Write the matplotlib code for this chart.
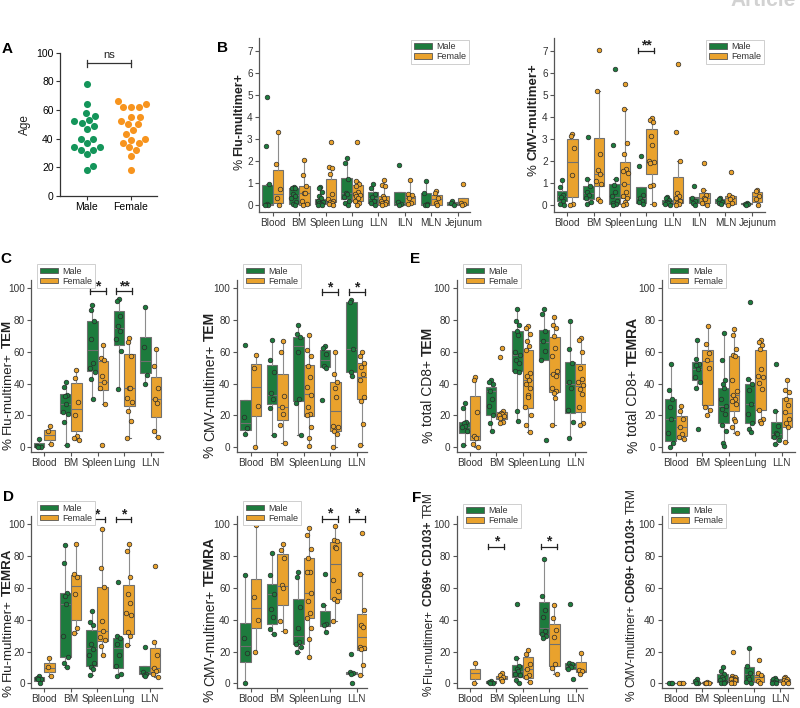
import numpy as np
import matplotlib
matplotlib.use('Agg')
import matplotlib.pyplot as plt
import matplotlib.transforms as mtrans
from matplotlib.patches import Patch

plt.rcParams['font.family'] = ['Liberation Sans', 'DejaVu Sans']

GREEN = '#1d7b3d'
ORANGE = '#e9a22d'
A_GREEN = '#14955a'
A_ORANGE = '#f7941e'

# ---------------- data ----------------
AGE_MALE = [78, 64, 58, 56, 53, 52, 51, 49, 47, 40, 40, 37, 34, 34, 32, 32, 29, 21, 18]
AGE_FEMALE = [66, 64, 62, 62, 62, 55, 55, 52, 50, 50, 46, 43, 40, 39, 37, 37, 34, 32, 28, 18]

TISSUES_B = ['Blood', 'BM', 'Spleen', 'Lung', 'LLN', 'ILN', 'MLN', 'Jejunum']
TISSUES = ['Blood', 'BM', 'Spleen', 'Lung', 'LLN']

# box stats: [lower whisker, q1, median, q3, upper whisker]
B_FLU_M = [[0, 0, 0.05, 0.92, 0.93], [0, 0.05, 0.45, 0.77, 0.82], [0, 0.05, 0.15, 0.27, 0.83],
           [0, 0.25, 0.55, 1.22, 2.15], [0, 0.1, 0.3, 0.6, 0.93], [0, 0, 0.1, 0.57, 0.57],
           [0, 0, 0.05, 0.53, 1.07], [0, 0.02, 0.1, 0.12, 0.2]]
B_FLU_M_PTS = [[4.9, 2.67, 0.93, 0.05, 0, 0], [0.82, 0.78, 0.75, 0.5, 0.4, 0.3, 0.15, 0.05, 0],
               [0.83, 0.75, 0.6, 0.4, 0.3, 0.2, 0.15, 0.1, 0.05, 0, 0],
               [2.15, 1.9, 1.2, 0.55, 0.5, 0.35, 0.2, 0.1, 0], [0.93, 0.75, 0.5, 0.35, 0.2, 0.1, 0],
               [1.8, 0.15, 0.05, 0], [1.07, 0.53, 0.05, 0, 0], [0.2, 0.1, 0]]
B_FLU_F = [[0.02, 0.08, 0.5, 1.59, 3.33], [0, 0, 0.55, 0.86, 2.05], [0, 0.15, 0.2, 1.17, 1.72],
           [0, 0.2, 0.5, 0.89, 1.1], [0, 0.02, 0.2, 0.42, 1.15], [0.05, 0.05, 0.3, 0.42, 1.15],
           [0, 0, 0.25, 0.47, 0.65], [0, 0, 0.05, 0.3, 0.3]]
B_FLU_F_PTS = [[3.33, 1.88, 0.73, 0.33, 0.02], [2.05, 1.37, 0.85, 0.55, 0.55, 0.2, 0.05, 0],
               [2.88, 1.72, 1.7, 1.42, 0.5, 0.25, 0.2, 0.15, 0.1, 0.05, 0],
               [2.87, 1.1, 0.95, 0.85, 0.6, 0.5, 0.45, 0.4, 0.3, 0.2, 0.1, 0],
               [1.15, 0.92, 0.85, 0.4, 0.3, 0.2, 0.15, 0.1, 0.05, 0],
               [1.15, 0.5, 0.45, 0.3, 0.1, 0.05], [0.65, 0.55, 0.3, 0.1, 0], [0.95, 0.1, 0.05, 0]]

B_CMV_M = [[0, 0.18, 0.4, 0.64, 1.12], [0.05, 0.26, 0.55, 0.86, 1.2], [0, 0.05, 0.35, 0.95, 1.17],
           [0.05, 0.1, 0.3, 0.8, 0.8], [0.02, 0.05, 0.15, 0.23, 0.38], [0, 0.1, 0.3, 0.38, 0.38],
           [0.05, 0.08, 0.15, 0.25, 0.3], [0, 0.03, 0.05, 0.08, 0.08]]
B_CMV_M_PTS = [[1.12, 0.82, 0.45, 0.38, 0.2, 0.05, 0], [3.08, 1.2, 0.85, 0.6, 0.45, 0.3, 0.15, 0.05],
               [6.15, 2.7, 1.17, 0.9, 0.6, 0.4, 0.2, 0.1, 0.05, 0],
               [2.22, 1.78, 0.45, 0.3, 0.2, 0.12, 0.05], [0.38, 0.3, 0.22, 0.15, 0.1, 0.05, 0.02],
               [0.87, 0.3, 0.2, 0.1, 0], [0.3, 0.25, 0.15, 0.1, 0.05], [0.08, 0.05, 0.03, 0]]
B_CMV_F = [[0, 0.38, 1.95, 3.0, 3.2], [0.2, 0.88, 1.42, 3.03, 5.18], [0, 0.3, 0.95, 1.97, 4.35],
           [0.05, 1.4, 1.95, 3.43, 3.95], [0, 0.1, 0.25, 1.27, 2.0], [0, 0.1, 0.3, 0.53, 0.7],
           [0, 0.05, 0.3, 0.42, 0.47], [0, 0.15, 0.4, 0.58, 0.68]]
B_CMV_F_PTS = [[3.2, 3.15, 2.57, 1.35, 0.05, 0], [7.05, 5.18, 2.3, 1.57, 1.42, 1.1, 0.95, 0.25, 0.2],
               [5.48, 4.35, 2.82, 2.3, 1.62, 1.55, 1.45, 0.95, 0.6, 0.4, 0.3, 0.15, 0.05, 0],
               [3.95, 3.85, 3.75, 3.15, 2.7, 2.0, 1.95, 1.9, 0.9, 0.85, 0.05],
               [6.4, 3.33, 2.0, 0.52, 0.4, 0.3, 0.2, 0.1, 0.05, 0],
               [1.9, 0.7, 0.45, 0.3, 0.25, 0.1, 0], [1.5, 0.47, 0.35, 0.25, 0.1, 0],
               [0.68, 0.62, 0.4, 0.25, 0]]

C_FLU_M = [[0, 0, 1, 2.9, 5.3], [1.7, 21.6, 27, 33.2, 41], [30, 47.9, 60.9, 79, 89],
           [36.4, 64.3, 75, 85.3, 93], [40, 46.4, 54, 69.5, 88]]
C_FLU_M_PTS = [[5.3, 0.5, 0, 0], [41, 38, 33, 32, 27, 22, 21, 16, 1.7], [89, 86, 79, 68, 53, 50, 47, 43, 30],
               [93, 92, 82.5, 76, 73, 68, 60.5, 36.4], [88, 63, 45.5, 40]]
C_FLU_F = [[2, 4.8, 7.6, 10.7, 13.4], [4.8, 10.1, 24, 40.1, 48.5], [27, 36.1, 41, 54.2, 64],
           [6, 26, 37, 58.6, 68.5], [6.5, 19, 30, 44.3, 61.5]]
C_FLU_F_PTS = [[13.4, 10, 2], [48.5, 43.5, 28.5, 20, 7, 5.5, 4.8], [64, 56, 54.5, 45, 41, 37, 27, 1.7],
               [68.5, 66, 57, 37, 37, 31, 28.5, 23, 16.5, 6], [61.5, 51, 37, 30, 28, 10.5, 6.5]]

C_CMV_M = [[8, 10.6, 15, 29.9, 29.9], [7.5, 27.1, 33, 51.4, 67.5], [7.8, 29.2, 63.5, 69.1, 77],
           [50, 50.3, 55, 61.2, 63.5], [45, 47.2, 61.5, 91.4, 92.5]]
C_CMV_M_PTS = [[64.3, 19, 12, 8], [67.5, 54.5, 47.5, 34, 30, 24.5, 7.5], [77, 71, 69, 60, 30, 28, 7.8],
               [63.5, 62.5, 58.5, 51, 50, 29.8], [92.5, 91.5, 61.5, 47.5, 45]]
C_CMV_F = [[0, 19.4, 38, 52, 58], [2.8, 17.3, 25.5, 45.7, 66.5], [1, 19.8, 33.2, 51.4, 70.6],
           [0, 10.2, 22.5, 40.9, 59.5], [1.5, 30, 44, 53, 59.5]]
C_CMV_F_PTS = [[58, 50, 26, 0], [66.5, 59.5, 32, 25.5, 21, 14, 2.8],
               [70.6, 61, 57, 51, 44, 38, 33, 25, 21, 20, 13, 6, 1],
               [59.5, 46, 41, 37.5, 31.5, 13.5, 13, 10, 8, 0],
               [59.5, 57, 53, 50.5, 46, 42, 31.5, 29, 14.3, 1.5]]

E_TEM_M = [[1.5, 9.2, 13, 16.1, 27.7], [10, 20.1, 35, 38, 42], [16.5, 48, 58, 73.2, 86.5],
           [54.5, 54.9, 66, 73.8, 87], [6, 21.8, 40, 53.2, 79.5]]
E_TEM_M_PTS = [[27.7, 24.5, 16, 15, 13.5, 12.5, 10, 1.5], [42, 41, 40, 35, 30, 26, 20, 15, 10],
               [86.5, 79, 77, 73, 70.5, 59.5, 58, 55, 53, 48, 47.5, 23, 16.5],
               [87, 83.5, 73, 66.5, 60.5, 54.5, 4.5], [79.5, 61.5, 53, 41, 37, 23.5, 16, 6]]
E_TEM_F = [[0, 4.4, 7, 31.9, 44], [15, 17.6, 20, 22.4, 22.5], [9.5, 24.9, 41.9, 61.2, 76],
           [14, 34.8, 46, 69.4, 82], [14, 22.4, 38.5, 52.2, 68.5]]
E_TEM_F_PTS = [[44, 42.5, 22, 7, 6, 2, 0], [62.3, 56.5, 22.5, 21.5, 21, 20, 19.5, 18.5, 16, 15],
               [76, 75, 71, 66.5, 63.5, 61, 46.5, 45, 42, 40, 37, 33, 31.5, 25, 20, 14, 9.5],
               [82, 77, 75, 70, 62.5, 57.5, 48, 46, 45, 37, 35, 34, 31, 14],
               [68.5, 67.5, 60, 49.5, 43, 41, 39, 36.5, 33.5, 25, 15, 14]]

E_TEMRA_M = [[0, 3.6, 18, 30.2, 52], [37, 42.1, 49, 53.7, 67.5], [0.5, 14.9, 26, 37.5, 71.5],
             [9.5, 14.9, 27, 40, 43], [2, 6.1, 8, 15.9, 23]]
E_TEMRA_M_PTS = [[52, 36, 30, 25.5, 18, 9, 2.5, 0], [67.5, 55.5, 52.5, 51.5, 49, 44, 41, 37, 11.5],
                 [71.5, 55, 42.5, 40, 37.5, 30, 26, 24, 21, 14, 10, 2.5, 0.5],
                 [91.5, 43, 40, 36, 27, 21, 15, 11.5, 9.5], [52.5, 23, 13.5, 9, 8, 6.5, 4.5, 2]]
E_TEMRA_F = [[5, 7.1, 12.8, 19.3, 26], [20, 26.4, 54.3, 60.8, 76], [9, 22.6, 32.5, 57.4, 74],
             [15, 23.3, 44.2, 61, 67.5], [3.5, 13, 21.5, 31.2, 42.5]]
E_TEMRA_F_PTS = [[26, 23, 18, 12.5, 8, 6.5, 5], [76, 65, 59, 55, 50, 25.5, 23.5, 20],
                 [74, 70.5, 61.5, 58, 57, 42, 35, 33, 30.5, 29, 27, 17.5, 16.5, 12.5, 9],
                 [67.5, 66, 64, 61.5, 49, 45, 44, 40.5, 36.5, 23.5, 18, 16.5, 15],
                 [42.5, 36, 34.5, 30, 26.5, 22, 18, 15, 13, 3.5]]

D_FLU_M = [[0, 1.5, 3, 4, 4.5], [10, 16.4, 50, 57, 87], [5.5, 10.9, 22, 33.5, 45.5],
           [4.5, 9.4, 22, 28.7, 29.5], [4.5, 5.9, 7, 11.1, 11.1]]
D_FLU_M_PTS = [[4.5, 3.5, 3, 2.5, 0], [87, 75.5, 57, 55, 50, 30, 16.5, 13, 10],
               [45.5, 38.5, 37, 24.5, 21.5, 18, 13, 10, 9, 5.5],
               [63.5, 29.5, 28.5, 25, 18, 11, 6, 4.5], [23, 7, 6, 5, 4.5]]
D_FLU_F = [[4.6, 7.1, 9.5, 12.6, 15.7], [31.5, 39.8, 61, 68, 87.5], [18, 26.8, 33, 60.8, 97],
           [24, 30.8, 43.8, 61.6, 87.5], [4, 6.9, 9.5, 22, 26.5]]
D_FLU_F_PTS = [[15.7, 10, 4.6], [87.5, 68.5, 67, 56, 34.5, 31.5], [97, 72.5, 60.5, 39, 33, 29, 27, 23.5, 18],
               [87.5, 83, 67, 56, 50.5, 44, 43, 32, 29.5, 24], [73.5, 26, 18, 9.5, 8, 6, 4]]

D_CMV_M = [[0, 13.6, 23.5, 38.2, 68], [31, 37.3, 56, 62.3, 82], [19.5, 24.7, 30, 52.8, 70],
           [32, 36.3, 37, 45.7, 49], [5.9, 5.9, 6.5, 7.3, 7.3]]
D_CMV_M_PTS = [[68, 28.5, 19, 0], [82, 68, 56.5, 46.5, 41.5, 34, 31], [70, 67, 48, 34.5, 26, 25, 23, 19.5],
               [69, 49, 37.5, 36.5, 32], [18.5, 7, 6.5, 6, 0]]
D_CMV_F = [[20, 34.8, 47.4, 65.6, 99.5], [33, 49.3, 61.5, 81.3, 87.5], [16.5, 41.3, 56.7, 78.6, 97.5],
           [39, 53, 75.1, 88.7, 99], [5.5, 21, 29, 43.6, 68.5]]
D_CMV_F_PTS = [[99.5, 54.5, 40, 20], [87.5, 84, 79, 62, 60, 39, 33],
               [97.5, 93.5, 84.5, 79, 70, 70, 57, 52, 44.5, 41, 35, 28, 16.5],
               [99, 90, 89.5, 86, 85, 65, 58, 53, 51.5, 39],
               [94.5, 68.5, 46, 37, 35.5, 23, 22, 21.5, 11.5, 5.5]]

F_FLU_M = [None, [0, 0, 0.5, 1.2, 1.5], [0, 4.2, 7.5, 11.5, 16], [28.5, 30.8, 35, 51, 78.5],
           [9, 9, 11, 13, 13]]
F_FLU_M_PTS = [[], [1.5, 0.8, 0.3, 0], [50, 16, 11, 9, 8, 6, 5, 2, 0], [78.5, 55, 46, 42, 33, 31, 29.5, 28.5],
               [50, 13, 12, 11, 10, 9, 3]]
F_FLU_F = [[0, 2.5, 6.5, 9, 12.5], [1.2, 2.5, 3.5, 4.8, 6.5], [0.8, 3.1, 9, 16.8, 21],
           [6, 10.9, 24.7, 37.3, 49], [6, 7.3, 8, 13.6, 19]]
F_FLU_F_PTS = [[12.5, 0], [6.5, 5, 4, 3, 1.2], [21, 18.5, 12, 9, 5, 4, 0.8], [49, 41, 33.5, 29, 12, 9.5, 6],
               [19, 8.5, 7.5, 6]]

F_CMV_M = [[0, 0, 0, 0, 0], [0, 0, 0.2, 0.5, 2.5], [0, 0.6, 2, 5.7, 10], [0.5, 1.7, 6, 10.5, 22.5],
           [0, 0.6, 1.5, 2.5, 3.5]]
F_CMV_M_PTS = [[0, 0, 0], [2.5, 1.5, 0.5, 0], [10, 8, 6, 4, 3, 2, 1, 0.5, 0], [22.5, 11, 6.5, 4, 2.5, 1, 0.5],
               [3.5, 3, 2, 1, 0.5, 0]]
F_CMV_F = [[0, 0, 0, 0, 0], [0.1, 0.1, 0.4, 0.8, 1], [0, 0.6, 2.5, 3.8, 5], [0, 0.6, 4, 5.2, 6.5],
           [0, 0.6, 2, 2.5, 4]]
F_CMV_F_PTS = [[0, 0, 0], [1, 0.5, 0.3, 0.1], [19.5, 4.5, 4, 3.5, 3, 2.5, 2, 1, 0.5, 0],
               [14.5, 6.5, 5, 1.5, 0], [4, 3.5, 3, 2, 1.5, 0.5, 0]]

# ---------------- helpers ----------------
W, H = 800, 708
JIT = np.array([0, -0.06, 0.06, -0.03, 0.03, -0.09, 0.09, -0.045, 0.045,
                -0.075, 0.075, -0.015, 0.015, -0.1, 0.1, -0.06, 0.06])


def rect(l, r, t, b):
    return [l / W, 1 - b / H, (r - l) / W, (b - t) / H]


def style(ax, labels, xlim, ylim, yticks):
    for s in ['top', 'right']:
        ax.spines[s].set_visible(False)
    for s in ['left', 'bottom']:
        ax.spines[s].set_color('#555555')
        ax.spines[s].set_linewidth(0.9)
    ax.set_xlim(xlim)
    ax.set_ylim(ylim)
    ax.set_xticks(range(len(labels)))
    ax.set_xticklabels(labels)
    ax.set_yticks(yticks)
    ax.tick_params(labelsize=7.2, length=3, width=0.8, color='#555555', labelcolor='#333333', pad=1.5)


def boxes(ax, stats, pts, off, color):
    for i, (s, p) in enumerate(zip(stats, pts)):
        pos = i + off
        if s is not None:
            ax.bxp([dict(whislo=s[0], q1=s[1], med=s[2], q3=s[3], whishi=s[4])], positions=[pos],
                   widths=0.4, patch_artist=True, showfliers=False, manage_ticks=False, capwidths=0.1,
                   boxprops=dict(facecolor=color, edgecolor='#707070', linewidth=0.8),
                   medianprops=dict(color='#707070', linewidth=0.8),
                   whiskerprops=dict(color='#8c8c8c', linewidth=0.8),
                   capprops=dict(color='#707070', linewidth=0.8))
        if len(p):
            ax.scatter(pos + np.resize(JIT, len(p)), p, s=11, c=color, edgecolors='#2a2a2a',
                       linewidths=0.5, zorder=3)


def legend(ax, x, y, loc):
    h = [Patch(facecolor=GREEN, edgecolor='#555555', lw=0.6, label='Male'),
         Patch(facecolor=ORANGE, edgecolor='#555555', lw=0.6, label='Female')]
    lg = ax.legend(handles=h, loc=loc, bbox_to_anchor=(x, y), fontsize=6.5, borderpad=0.3,
                   labelspacing=0.1, handlelength=2.0, handleheight=0.6, handletextpad=0.5,
                   borderaxespad=0, framealpha=1, edgecolor='#c8c8c8', fancybox=False)
    lg.get_frame().set_linewidth(0.6)
    for t in lg.get_texts():
        t.set_color('#333333')


def sig(ax, x, y, star, h=1.8):
    kw = dict(color='#222222', lw=0.9, clip_on=False)
    ax.plot([x - 0.3, x + 0.3], [y, y], **kw)
    ax.plot([x - 0.3, x - 0.3], [y - h, y + h], **kw)
    ax.plot([x + 0.3, x + 0.3], [y - h, y + h], **kw)
    ax.text(x, y - h * 0.6, star, ha='center', va='bottom', fontsize=10, fontweight='bold', color='#222222')


def ylab(ax, parts, x, yc, fs=10):
    r = fig.canvas.get_renderer()
    texts = [ax.text(x, 0, s, transform=ax.transAxes, rotation=90, rotation_mode='anchor',
                     ha='left', va='baseline', fontsize=fs, fontweight=w, color='#222222')
             for s, w in parts]
    gap = fs * 0.28 * fig.dpi / 72
    lens = [t.get_window_extent(r).height for t in texts]
    total = sum(lens) + gap * (len(texts) - 1)
    x0, yd = ax.transAxes.transform((x, yc))
    y = yd - total / 2
    inv = ax.transAxes.inverted()
    for t, L in zip(texts, lens):
        t.set_position(inv.transform((x0, y)))
        y += L + gap


def shift_last_label(ax, px):
    lab = ax.xaxis.get_major_ticks()[-1].label1
    lab.set_transform(lab.get_transform() + mtrans.ScaledTranslation(px / 100, 0, fig.dpi_scale_trans))


def swarm(ax, vals, center, diam):
    tr = ax.transData
    sx = tr.transform((1, 0))[0] - tr.transform((0, 0))[0]
    placed = []
    xs = np.zeros(len(vals))
    for i in np.argsort(vals):
        yp = tr.transform((0, vals[i]))[1]
        cands = [0.0]
        for px, py in placed:
            dy = yp - py
            if abs(dy) < diam:
                dx = np.sqrt(diam ** 2 - dy ** 2)
                cands += [px + dx, px - dx]
        cands.sort(key=abs)
        for c in cands:
            if all((c - px) ** 2 + (yp - py) ** 2 >= diam ** 2 - 1e-6 for px, py in placed):
                break
        placed.append((c, yp))
        xs[i] = center + c / sx
    return xs


fig = plt.figure(figsize=(W / 100, H / 100), dpi=100)
# journal header, only its lower edge shows at the top of the page
fig.text(0.995, 1 - 6 / H, 'Article', ha='right', va='baseline', color='#d2d2d2', fontsize=15, fontweight='bold')

# ---------------- A ----------------
axA = fig.add_axes(rect(60, 157, 52.7, 196))
axA.set_xlim(-0.61, 1.59)
axA.set_ylim(0, 100)
for s in ['top', 'right']:
    axA.spines[s].set_visible(False)
for s in ['left', 'bottom']:
    axA.spines[s].set_linewidth(0.9)
    axA.spines[s].set_color('#333333')
axA.set_xticks([0, 1])
axA.set_xticklabels(['Male', 'Female'], fontsize=8)
axA.set_yticks(range(0, 101, 20))
axA.tick_params(labelsize=7.5, length=3, width=0.8, color='#333333', pad=1.5)
axA.scatter(swarm(axA, np.array(AGE_MALE, float), 0, 7.6), AGE_MALE, s=26, c=A_GREEN, lw=0, zorder=3)
axA.scatter(swarm(axA, np.array(AGE_FEMALE, float), 1, 7.6), AGE_FEMALE, s=26, c=A_ORANGE, lw=0, zorder=3)
axA.plot([0, 1], [92.5, 92.5], color='#333333', lw=0.9)
axA.plot([0, 0], [90, 95], color='#333333', lw=0.9)
axA.plot([1, 1], [90, 95], color='#333333', lw=0.9)
axA.text(0.5, 95, 'ns', ha='center', va='bottom', fontsize=8, color='#222222')
ylab(axA, [('Age', 'normal')], -0.33, 0.5, fs=8.5)

# ---------------- B ----------------
yB = (-0.32, 7.58)
axB1 = fig.add_axes(rect(259, 470, 38, 212))
style(axB1, TISSUES_B, (-0.52, 7.47), yB, range(8))
shift_last_label(axB1, 6)
boxes(axB1, B_FLU_M, B_FLU_M_PTS, -0.2, GREEN)
boxes(axB1, B_FLU_F, B_FLU_F_PTS, 0.2, ORANGE)
legend(axB1, 0.995, 0.99, 'upper right')
ylab(axB1, [('%', 'normal'), ('Flu-multimer+', 'bold')], -0.08, 0.52, fs=9)

axB2 = fig.add_axes(rect(554, 765, 38, 212))
style(axB2, TISSUES_B, (-0.5, 7.5), yB, range(8))
shift_last_label(axB2, 6)
boxes(axB2, B_CMV_M, B_CMV_M_PTS, -0.2, GREEN)
boxes(axB2, B_CMV_F, B_CMV_F_PTS, 0.2, ORANGE)
legend(axB2, 0.995, 0.99, 'upper right')
sig(axB2, 3, 7.0, '**', h=0.12)
ylab(axB2, [('%', 'normal'), ('CMV-multimer+', 'bold')], -0.085, 0.53, fs=9.5)

# ---------------- rows 2 and 3 ----------------
y5 = (-3, 105)
yt = range(0, 101, 20)
R2 = (280, 452)
R3 = (516.4, 688.1)

panels = [
    ((31, 163), R2, (-0.5, 4.46), C_FLU_M, C_FLU_M_PTS, C_FLU_F, C_FLU_F_PTS,
     [('%', 'normal'), ('Flu-multimer+', 'normal'), ('TEM', 'bold')], -0.15, 0.39, 9.6,
     [(2, 97.9, '*'), (3, 97.9, '**')], (0.045, 1.093)),
    ((236.7, 366.7), R2, (-0.53, 4.38), C_CMV_M, C_CMV_M_PTS, C_CMV_F, C_CMV_F_PTS,
     [('%', 'normal'), ('CMV-multimer+', 'normal'), ('TEM', 'bold')], -0.175, 0.39, 10,
     [(3, 97.3, '*'), (4, 97.3, '*')], (0.05, 1.093)),
    ((456.7, 586), R2, (-0.5, 4.4), E_TEM_M, E_TEM_M_PTS, E_TEM_F, E_TEM_F_PTS,
     [('%', 'normal'), ('total CD8+', 'normal'), ('TEM', 'bold')], -0.19, 0.39, 10,
     [], (0.05, 1.093)),
    ((661.7, 795), R2, (-0.54, 4.5), E_TEMRA_M, E_TEMRA_M_PTS, E_TEMRA_F, E_TEMRA_F_PTS,
     [('%', 'normal'), ('total CD8+', 'normal'), ('TEMRA', 'bold')], -0.185, 0.39, 10,
     [], (0.045, 1.093)),
    ((31, 162), R3, (-0.5, 4.46), D_FLU_M, D_FLU_M_PTS, D_FLU_F, D_FLU_F_PTS,
     [('%', 'normal'), ('Flu-multimer+', 'normal'), ('TEMRA', 'bold')], -0.15, 0.38, 9.6,
     [(2, 103.1, '*'), (3, 103.1, '*')], (0.045, 1.09)),
    ((236.7, 366.7), R3, (-0.53, 4.38), D_CMV_M, D_CMV_M_PTS, D_CMV_F, D_CMV_F_PTS,
     [('%', 'normal'), ('CMV-multimer+', 'normal'), ('TEMRA', 'bold')], -0.175, 0.40, 10,
     [(3, 103.4, '*'), (4, 103.4, '*')], (0.05, 1.09)),
    ((456.7, 586.7), R3, (-0.5, 4.42), F_FLU_M, F_FLU_M_PTS, F_FLU_F, F_FLU_F_PTS,
     [('%', 'normal'), ('Flu-multimer+', 'normal'), ('CD69+ CD103+', 'bold'), ('TRM', 'normal')],
     -0.19, 0.545, 8.6, [(1, 86, '*'), (3, 86, '*')], (0.05, 1.075)),
    ((661.7, 793), R3, (-0.54, 4.5), F_CMV_M, F_CMV_M_PTS, F_CMV_F, F_CMV_F_PTS,
     [('%', 'normal'), ('CMV-multimer+', 'normal'), ('CD69+ CD103+', 'bold'), ('TRM', 'normal')],
     -0.205, 0.545, 8.6, [], (0.05, 1.075)),
]

for (xr, yr, xl, sm, pm, sf, pf, lab, lx, ly, lfs, sigs, lg) in panels:
    ax = fig.add_axes(rect(xr[0], xr[1], yr[0], yr[1]))
    style(ax, TISSUES, xl, y5, yt)
    boxes(ax, sm, pm, -0.2, GREEN)
    boxes(ax, sf, pf, 0.2, ORANGE)
    legend(ax, lg[0], lg[1], 'upper left')
    for x, y, st in sigs:
        sig(ax, x, y, st)
    ylab(ax, lab, lx, ly, fs=lfs)

# panel letters
for s, x, y in [('A', 7, 49), ('B', 223, 48), ('C', 6, 259), ('E', 415, 259), ('D', 8, 497), ('F', 417, 498)]:
    fig.text(x / W, 1 - y / H, s, ha='center', va='center', fontsize=11, fontweight='bold')

fig.savefig('out.png', dpi=100)
